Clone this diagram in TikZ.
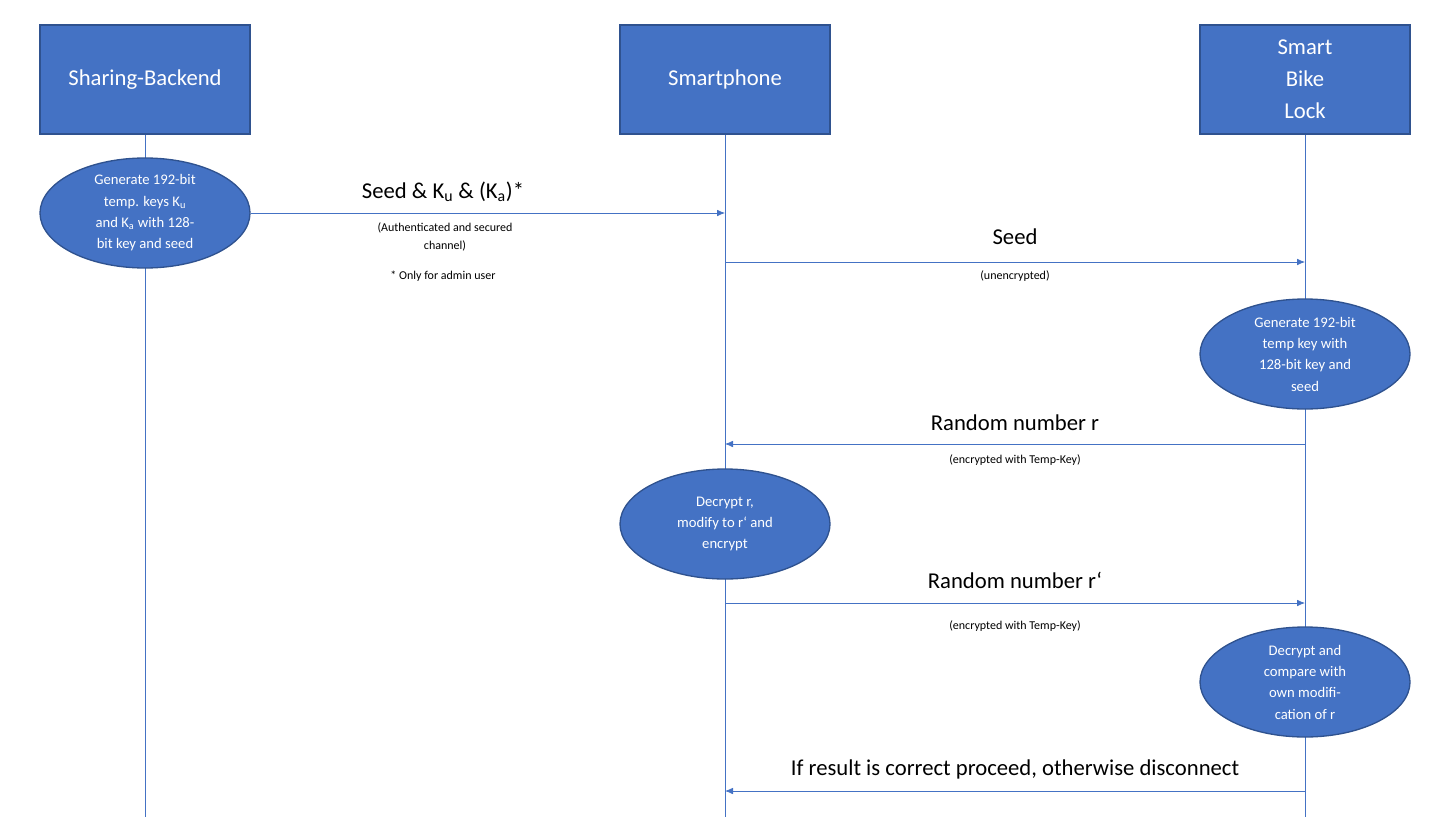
\documentclass[tikz,border=0pt]{standalone}
\usepackage{fontspec}
\setmainfont{Carlito}
\usetikzlibrary{shapes.geometric,arrows.meta}
\definecolor{boxblue}{HTML}{4472C4}
\definecolor{boxline}{HTML}{2F528F}
\tikzset{
  actor/.style={draw=boxline,line width=1pt,fill=boxblue,text=white,minimum width=210*0.75pt,minimum height=109*0.75pt,align=center,font=\fontsize{17}{24}\selectfont,inner sep=0pt},
  action/.style={ellipse,draw=boxline,line width=1pt,fill=boxblue,text=white,minimum width=210*0.75pt,minimum height=110*0.75pt,align=center,font=\fontsize{11}{16}\selectfont,inner sep=0pt},
  life/.style={boxblue,line width=0.6pt},
  msg/.style={boxblue,line width=0.6pt,-{Latex[length=6pt,width=5pt]}},
  big/.style={font=\fontsize{17}{20}\selectfont},
  small/.style={font=\fontsize{9}{13}\selectfont,align=center}
}
\begin{document}
\begin{tikzpicture}[x=0.75pt,y=0.75pt,yscale=-1,xscale=1]
\useasboundingbox (0,0) rectangle (1451,817);

% lifelines
\coordinate (bEnd) at (145,817);
\coordinate (pEnd) at (725,817);
\coordinate (lEnd) at (1305,817);
\node[actor] (backend) at (145,79.5) {Sharing-Backend};
\node[actor] (phone) at (725,79.5) {Smartphone};
\node[actor] (lock) at (1305,79.5) {Smart\\Bike\\Lock};
\draw[life] (backend) -- (bEnd);
\draw[life] (phone) -- (pEnd);
\draw[life] (lock) -- (lEnd);

% steps
\node[action] (genB) at (145,213) {Generate 192-bit\\temp. keys K\textsubscript{u}\\and K\textsubscript{a} with 128-\\bit key and seed};
\node[action] (genL) at (1305,354) {Generate 192-bit\\temp key with\\128-bit key and\\seed};
\node[action] (decP) at (725,524) {Decrypt r,\\modify to r‘ and\\encrypt};
\node[action] (decL) at (1305,682) {Decrypt and\\compare with\\own modifi-\\cation of r};

% messages
\coordinate (m1) at (725,213);
\coordinate (m2a) at (725,262);
\coordinate (m2b) at (1305,262);
\coordinate (m3a) at (1305,444);
\coordinate (m3b) at (725,444);
\coordinate (m4a) at (725,603);
\coordinate (m4b) at (1305,603);
\coordinate (m5a) at (1305,791);
\coordinate (m5b) at (725,791);
\draw[msg] (genB.east) -- (m1);
\draw[msg] (m2a) -- (m2b);
\draw[msg] (m3a) -- (m3b);
\draw[msg] (m4a) -- (m4b);
\draw[msg] (m5a) -- (m5b);

% labels
\node[big] (l1) at (443,192) {Seed \& K\textsubscript{u} \& (K\textsubscript{a})*};
\node[small] (l1s) at (445,237) {(Authenticated and secured\\channel)};
\node[small] (l1n) at (443,276) {* Only for admin user};
\node[big] (l2) at (1015,237) {Seed};
\node[small] (l2s) at (1015,276) {(unencrypted)};
\node[big] (l3) at (1015,423) {Random number r};
\node[small] (l3s) at (1015,460) {(encrypted with Temp-Key)};
\node[big] (l4) at (1015,580) {Random number r‘};
\node[small] (l4s) at (1015,626) {(encrypted with Temp-Key)};
\node[big] (l5) at (1015,769) {If result is correct proceed, otherwise disconnect};
\end{tikzpicture}
\end{document}
